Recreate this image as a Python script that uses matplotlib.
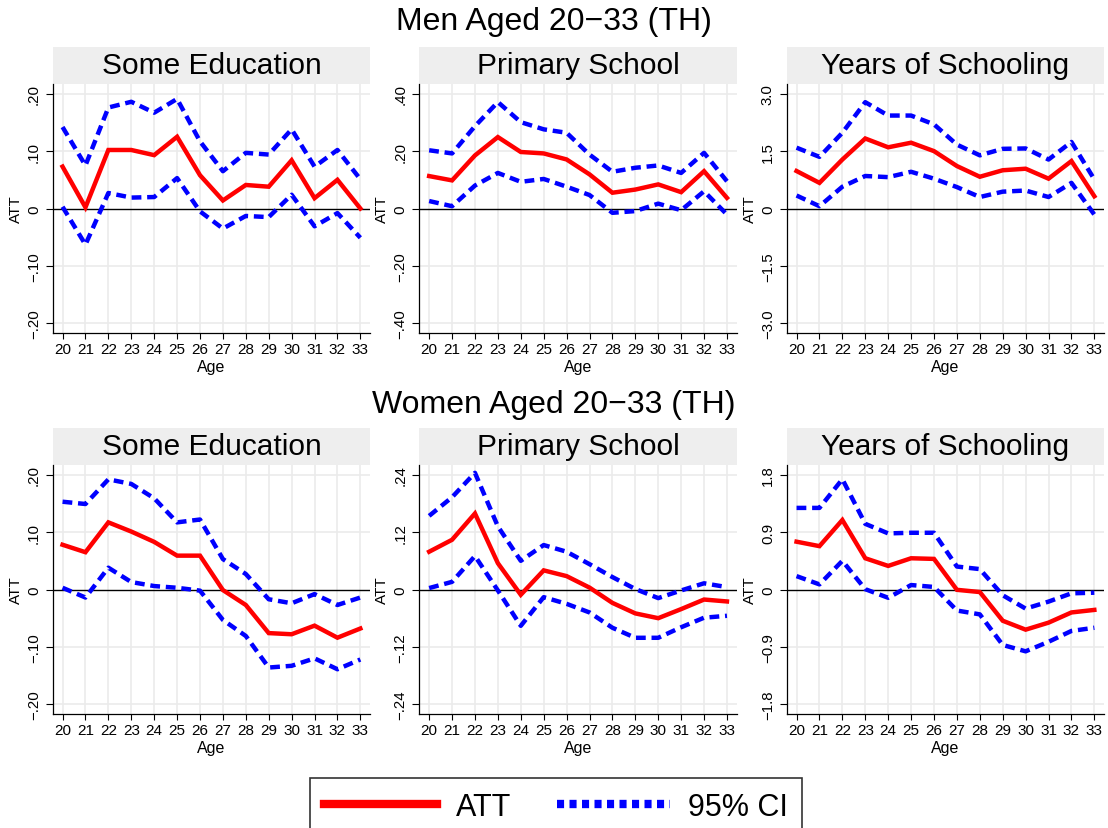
import matplotlib
matplotlib.use('Agg')
import matplotlib.pyplot as plt
from matplotlib.patches import Rectangle
from matplotlib.lines import Line2D
import numpy as np

plt.rcParams['font.family'] = ['Liberation Sans', 'DejaVu Sans']

ages = list(range(20, 34))

# men, some education
men_some_att = [0.073, 0.002, 0.102, 0.102, 0.093, 0.125, 0.058, 0.014, 0.041, 0.038, 0.084, 0.018, 0.050, 0.000]
men_some_hi = [0.142, 0.075, 0.176, 0.186, 0.167, 0.191, 0.117, 0.065, 0.097, 0.094, 0.138, 0.073, 0.102, 0.051]
men_some_lo = [0.003, -0.063, 0.027, 0.019, 0.020, 0.053, -0.005, -0.035, -0.013, -0.015, 0.024, -0.031, -0.008, -0.051]
# men, primary school
men_prim_att = [0.113, 0.098, 0.185, 0.249, 0.197, 0.192, 0.171, 0.119, 0.055, 0.066, 0.084, 0.057, 0.130, 0.037]
men_prim_hi = [0.203, 0.192, 0.287, 0.371, 0.301, 0.276, 0.264, 0.188, 0.128, 0.142, 0.150, 0.124, 0.194, 0.095]
men_prim_lo = [0.026, 0.008, 0.080, 0.124, 0.093, 0.103, 0.076, 0.047, -0.015, -0.009, 0.017, -0.006, 0.060, -0.021]
# men, years of schooling
men_yrs_att = [0.98, 0.67, 1.28, 1.83, 1.60, 1.72, 1.50, 1.11, 0.83, 1.00, 1.04, 0.78, 1.24, 0.32]
men_yrs_hi = [1.59, 1.35, 1.98, 2.78, 2.43, 2.43, 2.20, 1.67, 1.39, 1.56, 1.57, 1.28, 1.74, 0.76]
men_yrs_lo = [0.34, 0.06, 0.57, 0.85, 0.82, 0.96, 0.78, 0.56, 0.30, 0.44, 0.47, 0.30, 0.67, -0.16]
# women, some education
wom_some_att = [0.078, 0.065, 0.117, 0.101, 0.083, 0.059, 0.059, -0.001, -0.027, -0.076, -0.078, -0.063, -0.084, -0.068]
wom_some_hi = [0.153, 0.149, 0.192, 0.184, 0.159, 0.117, 0.122, 0.053, 0.027, -0.017, -0.024, -0.008, -0.027, -0.014]
wom_some_lo = [0.003, -0.014, 0.038, 0.013, 0.006, 0.003, -0.002, -0.053, -0.081, -0.136, -0.133, -0.120, -0.139, -0.122]
# women, primary school
wom_prim_att = [0.079, 0.104, 0.159, 0.055, -0.011, 0.040, 0.028, 0.004, -0.028, -0.050, -0.060, -0.041, -0.021, -0.025]
wom_prim_hi = [0.154, 0.193, 0.244, 0.132, 0.060, 0.093, 0.079, 0.053, 0.026, 0.001, -0.018, -0.002, 0.013, 0.005]
wom_prim_lo = [0.003, 0.016, 0.070, -0.002, -0.076, -0.016, -0.030, -0.048, -0.080, -0.101, -0.101, -0.079, -0.059, -0.055]
# women, years of schooling
wom_yrs_att = [0.75, 0.68, 1.09, 0.49, 0.37, 0.49, 0.48, -0.005, -0.04, -0.49, -0.63, -0.52, -0.36, -0.32]
wom_yrs_hi = [1.28, 1.28, 1.73, 1.03, 0.88, 0.89, 0.89, 0.36, 0.32, -0.09, -0.30, -0.19, -0.06, -0.05]
wom_yrs_lo = [0.21, 0.08, 0.45, 0.005, -0.13, 0.07, 0.04, -0.33, -0.39, -0.87, -0.97, -0.82, -0.65, -0.60]

titles = ['Some Education', 'Primary School', 'Years of Schooling']
row_titles = ['Men Aged 20\u221233 (TH)', 'Women Aged 20\u221233 (TH)']

ytick_vals = [
    [0.2, 0.1, 0, -0.1, -0.2],
    [0.4, 0.2, 0, -0.2, -0.4],
    [3.0, 1.5, 0, -1.5, -3.0],
    [0.2, 0.1, 0, -0.1, -0.2],
    [0.24, 0.12, 0, -0.12, -0.24],
    [1.8, 0.9, 0, -0.9, -1.8],
]
ytick_labs = [
    ['.20', '.10', '0', '\u2212.10', '\u2212.20'],
    ['.40', '.20', '0', '\u2212.20', '\u2212.40'],
    ['3.0', '1.5', '0', '\u22121.5', '\u22123.0'],
    ['.20', '.10', '0', '\u2212.10', '\u2212.20'],
    ['.24', '.12', '0', '\u2212.12', '\u2212.24'],
    ['1.8', '0.9', '0', '\u22120.9', '\u22121.8'],
]

panels = [
    (men_some_att, men_some_hi, men_some_lo),
    (men_prim_att, men_prim_hi, men_prim_lo),
    (men_yrs_att, men_yrs_hi, men_yrs_lo),
    (wom_some_att, wom_some_hi, wom_some_lo),
    (wom_prim_att, wom_prim_hi, wom_prim_lo),
    (wom_yrs_att, wom_yrs_hi, wom_yrs_lo),
]

W, H = 1108, 829
fig = plt.figure(figsize=(W / 100, H / 100), dpi=100)

lefts = [52.7, 419.3, 786.7]
tops = [85, 466]
ax_w = 317.5
ax_h = 249
strip_h = 37

red = '#ff0000'
blue = '#0000ff'

for k, (att, hi, lo) in enumerate(panels):
    r, c = divmod(k, 3)
    x0 = lefts[c] / W
    y0 = 1 - (tops[r] + ax_h) / H
    ax = fig.add_axes([x0, y0, ax_w / W, ax_h / H])
    ymax = ytick_vals[k][0] * 1.085
    ax.set_ylim(-ymax, ymax)
    ax.set_xlim(19.57, 33.43)
    ax.set_xticks(ages)
    ax.set_xticklabels([str(a) for a in ages], fontsize=11)
    ax.set_yticks(ytick_vals[k])
    ax.set_yticklabels(ytick_labs[k], fontsize=10.8, rotation=90, va='center')
    ax.tick_params(axis='x', length=4, width=0.8, pad=2.5)
    ax.tick_params(axis='y', length=5, width=0.8, pad=3.5)
    for a in ages:
        ax.axvline(a, color='#ebebeb', lw=1.2, zorder=0)
    for v in ytick_vals[k]:
        if v != 0:
            ax.axhline(v, color='#ebebeb', lw=1.2, zorder=0)
    ax.axhline(0, color='black', lw=1.0, zorder=1)
    ax.plot(ages, hi, color=blue, lw=3.2, dashes=(2.2, 1.3), zorder=2)
    ax.plot(ages, lo, color=blue, lw=3.2, dashes=(2.2, 1.3), zorder=2)
    ax.plot(ages, att, color=red, lw=3.2, zorder=3, solid_joinstyle='miter')
    for s in ['top', 'right']:
        ax.spines[s].set_visible(False)
    ax.spines['left'].set_linewidth(0.9)
    ax.spines['bottom'].set_linewidth(0.9)
    ax.set_ylabel('ATT', fontsize=11, labelpad=3)
    ax.set_xlabel('Age', fontsize=11.5, labelpad=2)
    sh = strip_h / ax_h
    ax.add_patch(Rectangle((0, 1), 1, sh, transform=ax.transAxes,
                           facecolor='#eeeeee', edgecolor='none', clip_on=False))
    ax.text(0.5, 1 + sh / 2, titles[c], transform=ax.transAxes,
            ha='center', va='center', fontsize=21.5)

fig.text(0.5, 1 - 22 / H, row_titles[0], ha='center', va='center', fontsize=23)
fig.text(0.5, 1 - 405 / H, row_titles[1], ha='center', va='center', fontsize=23)

h_att = Line2D([], [], color=red, lw=6)
h_ci = Line2D([], [], color=blue, lw=6, dashes=(0.85, 0.65))
leg = fig.legend(handles=[h_att, h_ci], labels=['ATT', '95% CI'], ncol=2,
                 loc='upper center', bbox_to_anchor=(556 / W, 1 - 779 / H),
                 fontsize=22, frameon=True, fancybox=False, handlelength=3.7,
                 handletextpad=0.6, columnspacing=1.5, borderpad=0.45,
                 borderaxespad=0)
leg.get_frame().set_edgecolor('black')
leg.get_frame().set_linewidth(1.2)

fig.savefig('out.png', dpi=100)
